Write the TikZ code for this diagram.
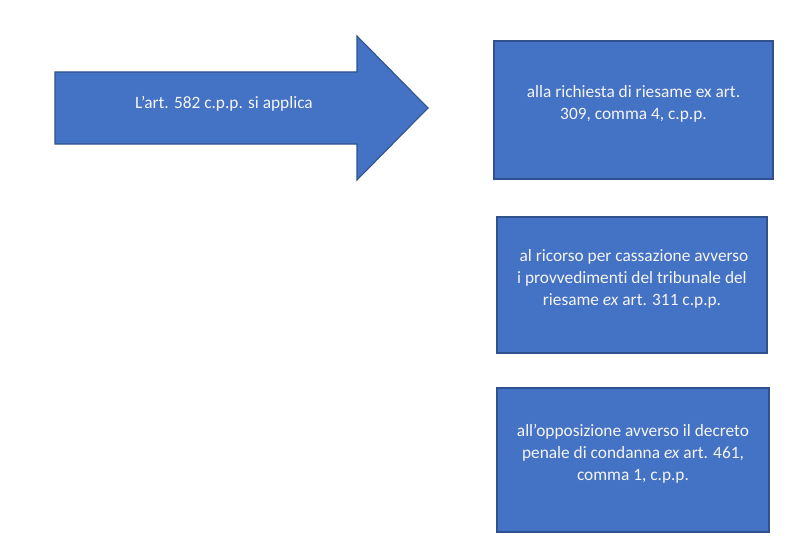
\documentclass[tikz,border=0pt]{standalone}
\usepackage{fontspec}
\setmainfont{Carlito}[Ligatures=NoCommon]
\usepackage{tikz}
\usetikzlibrary{positioning}

\definecolor{boxblue}{RGB}{68,114,196}
\definecolor{boxedge}{RGB}{47,82,143}
\definecolor{boxtext}{RGB}{245,245,245}

\begin{document}
\begin{tikzpicture}[x=0.75pt, y=-0.75pt]
        \tikzset{block/.style = {draw=boxedge, fill=boxblue, line width=0.8pt}}
        \tikzset{box/.style = {block, rectangle, inner sep=0pt}}
        \tikzset{boxlabel/.style = {text=boxtext, align=center, font=\fontsize{13}{16.5}\selectfont, inner sep=0pt}}

        \useasboundingbox (0,0) rectangle (800,542);

        % arrow
        \coordinate (tail) at (55,108);
        \coordinate (tip) at (428,108);
        \draw[block] (55,72) -- (357,72) -- (357,36) -- (tip) -- (357,180) -- (357,144) -- (55,144) -- cycle;
        \node[boxlabel] (applica) at (224,104) {L’art. 582 c.p.p. si applica};

        % boxes
        \node[box, minimum width=209.25pt, minimum height=103.5pt] (richiesta) at (633.5,110) {};
        \node[boxlabel] (richiestat) at ([yshift=4.5pt]richiesta.center) {alla richiesta di riesame ex art.\\309, comma 4, c.p.p.};

        \node[box, minimum width=202.5pt, minimum height=102pt] (ricorso) at (632,285) {};
        \node[boxlabel] (ricorsot) at ([yshift=4.5pt]ricorso.center) {\ al ricorso per cassazione avverso\\i provvedimenti del tribunale del\\riesame \emph{ex} art. 311 c.p.p.};

        \node[box, minimum width=204pt, minimum height=108pt] (opposizione) at (633,460) {};
        \node[boxlabel] (opposizionet) at ([yshift=4.5pt]opposizione.center) {all’opposizione avverso il decreto\\penale di condanna \emph{ex} art. 461,\\comma 1, c.p.p.};

        \end{tikzpicture}
\end{document}
